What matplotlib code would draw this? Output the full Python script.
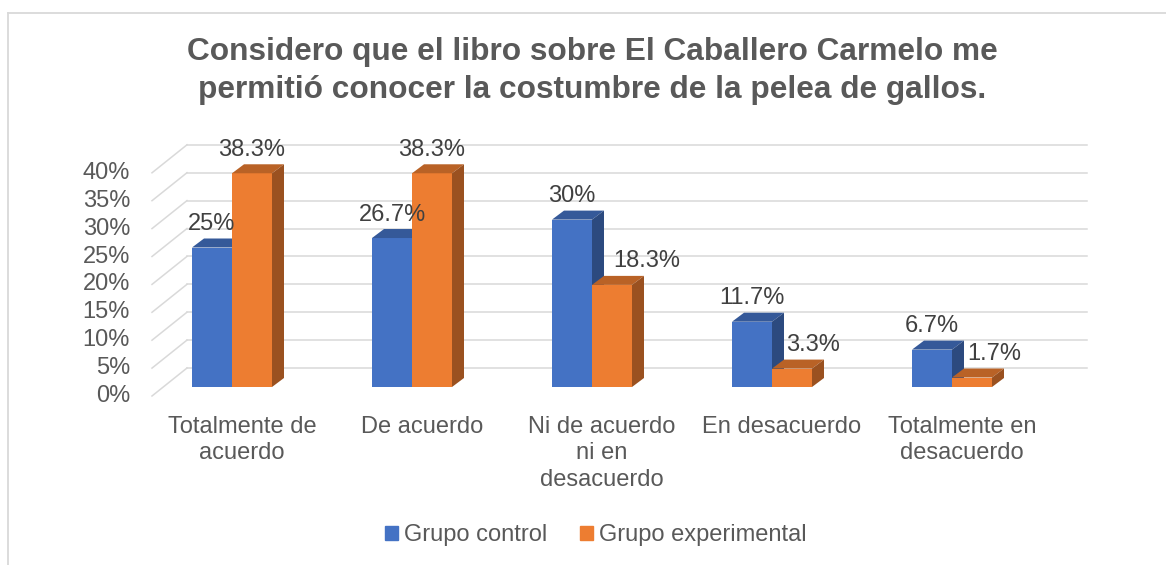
import numpy as np
import matplotlib
matplotlib.use('Agg')
from matplotlib import pyplot as plt
from matplotlib.patches import Polygon, Patch
from matplotlib.lines import Line2D

# data
categories = ['Totalmente de\nacuerdo', 'De acuerdo', 'Ni de acuerdo\nni en\ndesacuerdo',
              'En desacuerdo', 'Totalmente en\ndesacuerdo']
control = [25, 26.7, 30, 11.7, 6.7]
experimental = [38.3, 38.3, 18.3, 3.3, 1.7]
series_names = ['Grupo control', 'Grupo experimental']
yticks = [0, 5, 10, 15, 20, 25, 30, 35, 40]
title = 'Considero que el libro sobre El Caballero Carmelo me\npermitió conocer la costumbre de la pelea de gallos.'

# style
W, H = 1166, 565
blue, orange = '#4472C4', '#ED7D31'
grid_c = '#D9D9D9'
txt_c = '#595959'
lab_c = '#404040'
plt.rcParams['font.family'] = ['Liberation Sans', 'DejaVu Sans']

def shade(c, k):
    r, g, b = matplotlib.colors.to_rgb(c)
    return (r*k, g*k, b*k)

# pixel scales of the 3d-looking plot
X0_PX, CAT_PX = 232, 180      # screen x of first group centre, px per category
Y0_PX, PCT_PX = 387, 5.58     # screen y of bar base, px per percent
bar_w = 40/CAT_PX
bdx, bdy = 12/CAT_PX, 9/PCT_PX          # bar depth
fdx, fdy = 35/CAT_PX, 28/PCT_PX         # floor depth
front_y = -9/PCT_PX                     # floor front edge
left_x = (152-X0_PX)/CAT_PX
right_x = (1087-X0_PX)/CAT_PX

fig = plt.figure(figsize=(W/100, H/100), dpi=100)
ax = fig.add_axes([0, 0, 1, 1])
ax.set_xlim(-X0_PX/CAT_PX, (W-X0_PX)/CAT_PX)
ax.set_ylim((Y0_PX-H)/PCT_PX, Y0_PX/PCT_PX)
ax.axis('off')

# chart border (only top and left visible)
fig.add_artist(Line2D([7.5/W, 1], [1-12.5/H, 1-12.5/H], color=grid_c, lw=1.3))
fig.add_artist(Line2D([7.5/W, 7.5/W], [1-12.5/H, 0], color=grid_c, lw=1.3))

# walls / gridlines
for t in yticks:
    y0 = t + front_y
    ax.plot([left_x, left_x+fdx], [y0, y0+fdy], color=grid_c, lw=1.1, zorder=1)
    ax.plot([left_x+fdx, right_x], [y0+fdy, y0+fdy], color=grid_c, lw=1.1, zorder=1)
    ax.text((130-X0_PX)/CAT_PX, y0, f'{t}%', ha='right', va='center',
            fontsize=17, color=txt_c)

# bars
lab_dx = [[0, 0, 0, 0, 0], [0, 0, 35, 21, 22]]   # label nudges in px
z = 2
for i in range(len(categories)):
    for s, (vals, col) in enumerate([(control, blue), (experimental, orange)]):
        v = vals[i]
        x0 = i - bar_w + s*bar_w
        x1 = x0 + bar_w
        ax.bar(x0, v, width=bar_w, align='edge', color=col, lw=0, zorder=z)
        ax.add_patch(Polygon([(x0, v), (x1, v), (x1+bdx, v+bdy), (x0+bdx, v+bdy)],
                             closed=True, color=shade(col, 0.78), lw=0, zorder=z))
        ax.add_patch(Polygon([(x1, 0), (x1+bdx, bdy), (x1+bdx, v+bdy), (x1, v)],
                             closed=True, color=shade(col, 0.65), lw=0, zorder=z))
        ax.annotate(f'{v:g}%', (x0+bar_w/2, v), xytext=(lab_dx[s][i]*0.72, 23.5*0.72),
                    textcoords='offset points', ha='center', va='center',
                    fontsize=17, color=lab_c, zorder=20)
        z += 1

# category labels
for i, c in enumerate(categories):
    ax.text(i + 10/CAT_PX, (Y0_PX-416)/PCT_PX, c, ha='center', va='top',
            fontsize=17, color=txt_c, linespacing=1.26)

fig.text(592/W, 1-71/H, title, ha='center', va='center', fontsize=22.8,
         fontweight='bold', color=txt_c, linespacing=1.34)

handles = [Patch(color=blue), Patch(color=orange)]
fig.legend(handles, series_names, loc='center', bbox_to_anchor=(596/W, 1-535/H),
           ncol=2, frameon=False, fontsize=17, handlelength=0.55, handleheight=0.55,
           handletextpad=0.25, columnspacing=1.4, labelcolor=txt_c)

plt.savefig('out.png', dpi=100)
